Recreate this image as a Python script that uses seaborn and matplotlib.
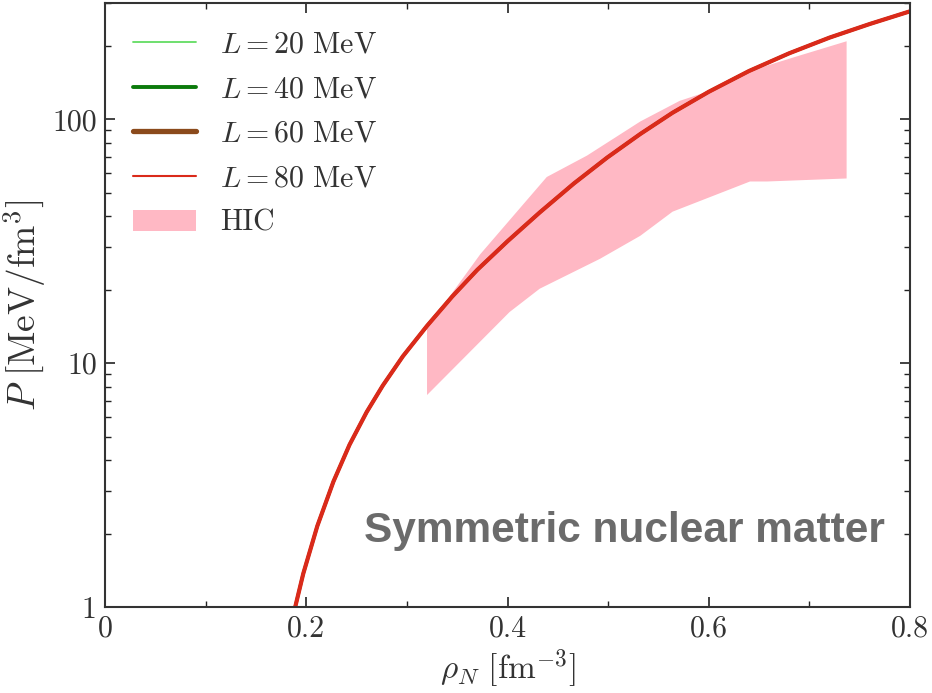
import numpy as np
import pandas as pd
import matplotlib
matplotlib.use("Agg")
import matplotlib.pyplot as plt
from matplotlib.ticker import FixedLocator, LogLocator, NullFormatter
import seaborn as sns

# Pressure of symmetric nuclear matter (same for every slope L)
rho_N = [0.189, 0.197, 0.211, 0.227, 0.243, 0.260, 0.276, 0.296, 0.320,
         0.345, 0.370, 0.400, 0.432, 0.466, 0.499, 0.532, 0.564, 0.600,
         0.640, 0.680, 0.720, 0.760, 0.800]
pressure = [1.00, 1.37, 2.15, 3.27, 4.63, 6.30, 8.09, 10.67, 14.22,
            18.75, 24.15, 31.62, 41.50, 54.58, 69.66, 87.10, 106.4, 129.7,
            157.8, 186.6, 216.3, 246.0, 277.3]

slopes = [20, 40, 60, 80]
slope_colors = ["#62dc62", "#0b7a0b", "#8b4a1c", "#da2a1a"]
plot_widths = [1.2, 2.0, 2.4, 3.0]
legend_widths = [1.3, 2.8, 3.8, 1.5]

# Heavy-ion collision constraint: upper and lower edges of the region
hic_upper_rho = [0.320, 0.373, 0.439, 0.479, 0.532, 0.571, 0.604, 0.641, 0.691, 0.737]
hic_upper_P = [14.0, 28.0, 58.0, 71.0, 98.0, 119.0, 132.0, 158.0, 183.0, 209.0]
hic_lower_rho = [0.320, 0.402, 0.432, 0.492, 0.532, 0.564, 0.641, 0.658, 0.737]
hic_lower_P = [7.4, 16.2, 20.2, 26.8, 33.3, 41.8, 55.6, 55.6, 57.2]

x_ticks = [0, 0.2, 0.4, 0.6, 0.8]
x_tick_labels = ["0", "0.2", "0.4", "0.6", "0.8"]
y_ticks = [1, 10, 100]
y_tick_labels = ["1", "10", "100"]

sns.set_theme(style="ticks")
plt.rcParams["font.family"] = "serif"
plt.rcParams["font.serif"] = ["cmr10", "DejaVu Serif"]
plt.rcParams["mathtext.fontset"] = "cm"
plt.rcParams["axes.formatter.use_mathtext"] = True

fig = plt.figure(figsize=(9.32, 6.93), dpi=100)
ax = fig.add_axes([0.1127, 0.1241, 0.8637, 0.8716])

hull_rho = np.concatenate([hic_upper_rho, hic_lower_rho[::-1]])
hull_P = np.concatenate([hic_upper_P, hic_lower_P[::-1]])
ax.fill(hull_rho, hull_P, color="#ffb8c4", lw=0, label="HIC", zorder=1)

df = pd.DataFrame({"rho": rho_N, "P": pressure})
for L, c, w in zip(slopes, slope_colors, plot_widths):
    sns.lineplot(data=df, x="rho", y="P", ax=ax, color=c, lw=w,
                 label=rf"$L = {L}\ \mathrm{{MeV}}$", zorder=2, sort=True)

ax.set_yscale("log")
ax.set_xlim(0, 0.8)
ax.set_ylim(1, 300)

ax.xaxis.set_major_locator(FixedLocator(x_ticks))
ax.set_xticklabels(x_tick_labels)
ax.xaxis.set_minor_locator(FixedLocator([0.1, 0.3, 0.5, 0.7]))
ax.yaxis.set_major_locator(FixedLocator(y_ticks))
ax.set_yticklabels(y_tick_labels)
ax.yaxis.set_minor_locator(LogLocator(base=10, subs=np.arange(2, 10)))
ax.yaxis.set_minor_formatter(NullFormatter())

ax.tick_params(which="both", direction="in", top=True, right=True,
               colors="#222222", labelcolor="#333333", labelsize=21.5)
ax.tick_params(which="major", length=7, width=1.2, pad=6)
ax.tick_params(which="minor", length=4, width=1.0)
for s in ax.spines.values():
    s.set_color("#333333")
    s.set_linewidth(1.5)

ax.set_xlabel(r"$\rho_N\ [\mathrm{fm}^{-3}]$", fontsize=24, color="#333333", labelpad=3)
ax.set_ylabel(r"$P\ [\mathrm{MeV/fm}^3]$", fontsize=27, color="#333333", labelpad=3)

handles, labels = ax.get_legend_handles_labels()
order = [labels.index(rf"$L = {L}\ \mathrm{{MeV}}$") for L in slopes] + [labels.index("HIC")]
leg = ax.legend([handles[i] for i in order], [labels[i] for i in order],
                loc="upper left", frameon=False, fontsize=21.5,
                handlelength=2.1, handletextpad=0.8, labelspacing=0.57,
                borderaxespad=0.45, borderpad=0.5)
for t in leg.get_texts():
    t.set_color("#333333")
for h, w in zip(leg.legend_handles[:4], legend_widths):
    h.set_linewidth(w)

ax.text(0.969, 0.108, "Symmetric nuclear matter", transform=ax.transAxes,
        ha="right", va="baseline", fontsize=30.5, fontweight="bold",
        family=["Liberation Sans", "DejaVu Sans"], color="#6b6b6b")

fig.savefig("out.png", dpi=100)
